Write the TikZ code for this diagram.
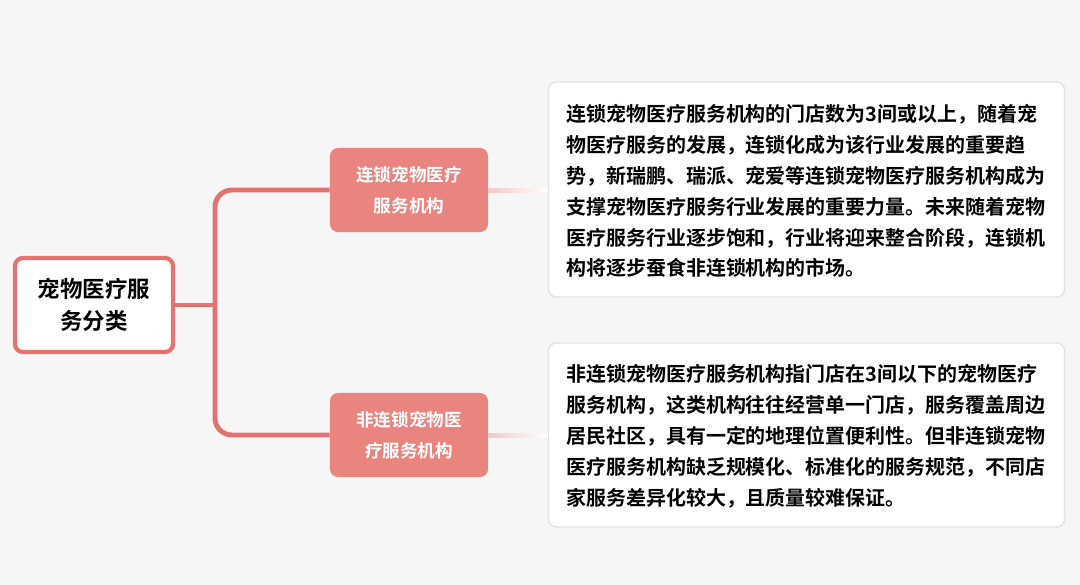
\documentclass[tikz,border=0pt]{standalone}
\usepackage{fontspec}
\setmainfont{Noto Sans CJK SC}[BoldFont={Noto Sans CJK SC Bold}]
\usetikzlibrary{positioning}
\definecolor{bgColor}{HTML}{F6F6F6}
\definecolor{lineColor}{HTML}{E2736F}
\definecolor{branchColor}{HTML}{E9847F}
\definecolor{boxLine}{HTML}{E2E2E2}
\tikzset{
	rootbox/.style={draw=lineColor, line width=3pt, fill=white, rounded corners=2mm,
		minimum width=3.95cm, minimum height=2.35cm, align=center,
		font=\fontsize{16}{23}\selectfont\bfseries},
	branchbox/.style={fill=branchColor, rounded corners=2mm, text=white,
		minimum width=3.95cm, minimum height=2.1cm, align=center,
		font=\fontsize{12.5}{22}\selectfont\bfseries},
	notebox/.style={draw=boxLine, line width=1pt, fill=white, rounded corners=2mm,
		minimum width=12.9cm},
	notetext/.style={align=left, inner sep=0, font=\fontsize{14.2}{22}\selectfont\bfseries}
}
\begin{document}
\begin{tikzpicture}[x=0.025cm, y=-0.025cm]
	\fill[bgColor] (0,0) rectangle (1080,585);
	\node[rootbox] (root) at (94,305) {宠物医疗服\\务分类};
	\node[branchbox] (chain) at (409,190) {连锁宠物医疗\\服务机构};
	\node[branchbox] (nochain) at (409,435) {非连锁宠物医\\疗服务机构};
	\node[notebox, minimum height=5.375cm] (chainbox) at (806.5,189.5) {};
	\node[notebox, minimum height=4.6cm] (nochainbox) at (806.5,435) {};
	\node[notetext, anchor=west] (chaintext) at (566,191) {连锁宠物医疗服务机构的门店数为3间或以上，随着宠\\物医疗服务的发展，连锁化成为该行业发展的重要趋\\势，新瑞鹏、瑞派、宠爱等连锁宠物医疗服务机构成为\\支撑宠物医疗服务行业发展的重要力量。未来随着宠物\\医疗服务行业逐步饱和，行业将迎来整合阶段，连锁机\\构将逐步蚕食非连锁机构的市场。};
	\node[notetext, anchor=west] (nochaintext) at (566,436) {非连锁宠物医疗服务机构指门店在3间以下的宠物医疗\\服务机构，这类机构往往经营单一门店，服务覆盖周边\\居民社区，具有一定的地理位置便利性。但非连锁宠物\\医疗服务机构缺乏规模化、标准化的服务规范，不同店\\家服务差异化较大，且质量较难保证。};
	\coordinate (junction) at (215,305);
	% trunk
	\draw[lineColor, line width=3.5pt] (root.east) -- (junction);
	\draw[lineColor, line width=3.5pt, rounded corners=12pt]
		(chain.west) -- (215,190) -- (215,435) -- (nochain.west);
	% faint links
	\shade[left color=branchColor!45, right color=white] (chain.east) ++(0,-2) rectangle (chainbox.west |- 192,192);
	\shade[left color=branchColor!45, right color=white] (nochain.east) ++(0,-2) rectangle (nochainbox.west |- 437,437);
\end{tikzpicture}
\end{document}
